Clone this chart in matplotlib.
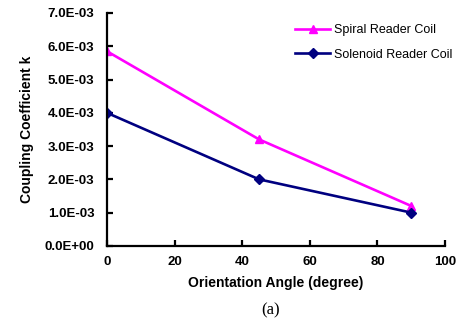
import matplotlib.pyplot as plt
from matplotlib.ticker import FuncFormatter

# data
angles = [0, 45, 90]
spiral_k = [5.85e-3, 3.2e-3, 1.2e-3]
solenoid_k = [4.0e-3, 2.0e-3, 1.0e-3]

plt.rcParams['font.family'] = ['Liberation Sans', 'DejaVu Sans']

fig = plt.figure(figsize=(4.73, 3.24), dpi=100)
ax = fig.add_axes([0.226, 0.241, 0.715, 0.719])

ax.plot(angles, spiral_k, color='#ff00ff', lw=1.9, marker='^', ms=6,
        label='Spiral Reader Coil')
ax.plot(angles, solenoid_k, color='#000080', lw=1.9, marker='D', ms=5,
        label='Solenoid Reader Coil')

ax.set_xlim(0, 100)
ax.set_ylim(0, 7e-3)
ax.set_xticks(range(0, 101, 20))
ax.set_yticks([i * 1e-3 for i in range(8)])

def sci(v, pos):
    s = '%.1E' % v
    return s

ax.yaxis.set_major_formatter(FuncFormatter(sci))

for sp in ['top', 'right']:
    ax.spines[sp].set_visible(False)
for sp in ['left', 'bottom']:
    ax.spines[sp].set_linewidth(1.6)
ax.tick_params(direction='in', length=4, width=1.6, labelsize=9.5)
for lab in ax.get_xticklabels() + ax.get_yticklabels():
    lab.set_fontweight('bold')
ax.tick_params(axis='y', pad=9)
ax.tick_params(axis='x', pad=7)

ax.set_xlabel('Orientation Angle (degree)', fontsize=10, fontweight='bold', labelpad=6)
ax.set_ylabel('Coupling Coefficient k', fontsize=10, fontweight='bold', labelpad=8)

fig.legend(loc='upper left', bbox_to_anchor=(0.6, 0.96), frameon=False,
           fontsize=9, handlelength=2.8, handletextpad=0.3, labelspacing=1.0)

fig.text(0.572, 0.042, '(a)', fontsize=12, family=['Liberation Serif', 'DejaVu Serif'],
         ha='center', va='center')

fig.savefig('out.png', dpi=100)
